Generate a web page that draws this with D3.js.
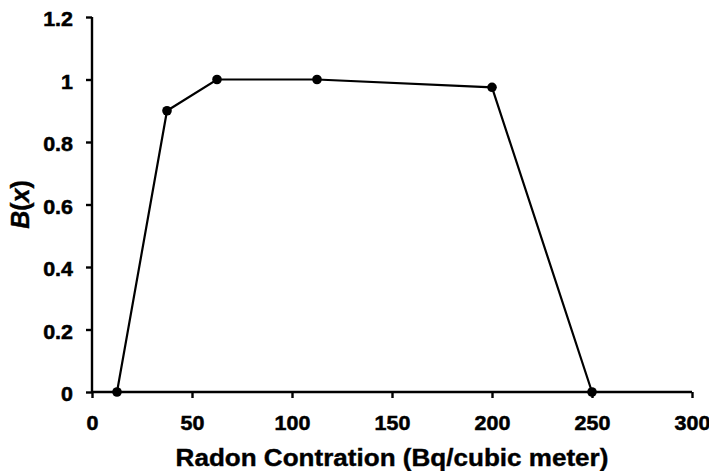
<!DOCTYPE html>
<html>
<head>
<meta charset="utf-8">
<script src="https://cdn.jsdelivr.net/npm/d3@7"></script>
<style>
  body { margin: 0; background: #fff; }
  svg { display: block; font-family: "Liberation Sans", Arial, sans-serif; font-weight: bold; }
</style>
</head>
<body>
<script>
const width = 709
const height = 471

// radon concentration (Bq/cubic meter) vs B(x)
const radon = [12.5, 37.5, 62.5, 112.5, 200, 250]
const bValues = [0, 0.9, 1, 1, 0.975, 0]
const xTicks = [0, 50, 100, 150, 200, 250, 300]
const yTicks = [0, 0.2, 0.4, 0.6, 0.8, 1, 1.2]

const margin = { top: 17, right: 17, bottom: 79, left: 92 }
const stretch = 1.1 // the original figure is a bit wider than tall

const svg = d3.select('body').append('svg')
  .attr('width', width)
  .attr('height', height)

const x = d3.scaleLinear().domain([0, 300]).range([margin.left, width - margin.right])
const y = d3.scaleLinear().domain([0, 1.2]).range([height - margin.bottom, margin.top])

const xAxis = svg.append('g')
  .attr('transform', `translate(0,${y(0)})`)
  .call(d3.axisBottom(x).tickValues(xTicks).tickSize(6).tickPadding(24).tickFormat(d3.format('d')))

const yAxis = svg.append('g')
  .attr('transform', `translate(${x(0)},0)`)
  .call(d3.axisLeft(y).tickValues(yTicks).tickSize(6).tickPadding(13).tickFormat(d => String(+d.toFixed(1))))

for (const ax of [xAxis, yAxis]) {
  ax.select('.domain').attr('stroke', '#000').attr('stroke-width', 2.4)
  ax.selectAll('.tick line').attr('stroke', '#000').attr('stroke-width', 2.4)
  ax.selectAll('.tick text')
    .attr('fill', '#000')
    .attr('stroke', '#000')
    .attr('stroke-width', 0.5)
    .style('font-size', '19.5px')
    .style('font-family', '"Liberation Sans", Arial, sans-serif')
    .style('font-weight', 'bold')
}
yAxis.selectAll('.tick text').attr('dy', '0.45em')
xAxis.selectAll('.tick text').attr('dy', '0.42em')
// no outer end ticks on the domain path
xAxis.select('.domain').attr('d', `M${x(0)},0H${x(300)}`)
yAxis.select('.domain').attr('d', `M0,${y(0)}V${y(1.2)}`)

const pts = radon.map((r, i) => [r, bValues[i]])

svg.append('path')
  .datum(pts)
  .attr('fill', 'none')
  .attr('stroke', '#000')
  .attr('stroke-width', 2.2)
  .attr('d', d3.line().x(d => x(d[0])).y(d => y(d[1])))

svg.append('g')
  .selectAll('circle')
  .data(pts)
  .enter()
  .append('circle')
  .attr('cx', d => x(d[0]))
  .attr('cy', d => y(d[1]))
  .attr('r', 4.8)
  .attr('fill', '#000')

svg.append('text')
  .attr('class', 'wide')
  .attr('x', (x(0) + x(300)) / 2)
  .attr('y', 466)
  .attr('text-anchor', 'middle')
  .attr('stroke', '#000')
  .attr('stroke-width', 0.4)
  .style('font-size', '23.7px')
  .text('Radon Contration (Bq/cubic meter)')

const yTitle = svg.append('text')
  .attr('transform', `translate(29,${(y(0) + y(1.2)) / 2}) rotate(-90)`)
  .attr('text-anchor', 'middle')
  .attr('stroke', '#000')
  .attr('stroke-width', 0.4)
  .style('font-size', '25px')
yTitle.append('tspan').style('font-style', 'italic').text('B')
yTitle.append('tspan').text('(')
yTitle.append('tspan').style('font-style', 'italic').text('x')
yTitle.append('tspan').text(')')

// widen horizontal labels to match the original proportions
svg.selectAll('.tick text, text.wide').each(function () {
  const len = this.getComputedTextLength()
  d3.select(this).attr('textLength', len * stretch).attr('lengthAdjust', 'spacingAndGlyphs')
})
</script>
</body>
</html>
